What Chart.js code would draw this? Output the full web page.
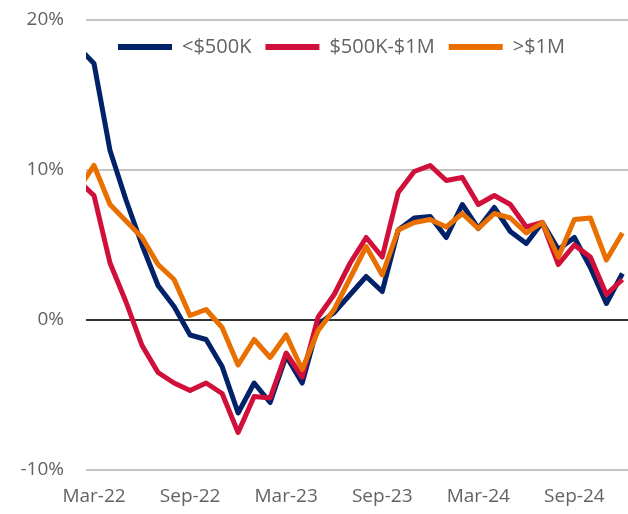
<!DOCTYPE html>
<html>
<head>
<meta charset="utf-8">
<script src="https://cdn.jsdelivr.net/npm/chart.js@4"></script>
<style>
  html, body { margin: 0; padding: 0; background: #fff; }
  #wrap { width: 628px; height: 514px; }
</style>
</head>
<body>
<div id="wrap"><canvas id="myChart" width="628" height="514"></canvas></div>
<script>
// monthly, Feb-22 .. Dec-24 (Feb-22 sits just left of the axis and is clipped)
const months = [
    'Feb-22', 'Mar-22', 'Apr-22', 'May-22', 'Jun-22', 'Jul-22', 'Aug-22', 'Sep-22', 'Oct-22', 'Nov-22', 'Dec-22',
    'Jan-23', 'Feb-23', 'Mar-23', 'Apr-23', 'May-23', 'Jun-23', 'Jul-23', 'Aug-23', 'Sep-23', 'Oct-23', 'Nov-23', 'Dec-23',
    'Jan-24', 'Feb-24', 'Mar-24', 'Apr-24', 'May-24', 'Jun-24', 'Jul-24', 'Aug-24', 'Sep-24', 'Oct-24', 'Nov-24', 'Dec-24'
]
const tickLabels = ['Mar-22', 'Sep-22', 'Mar-23', 'Sep-23', 'Mar-24', 'Sep-24']
const yTicks = [-10, 0, 10, 20]

const under500k = [18.2, 17.1, 11.3, 8.0, 5.0, 2.3, 0.9, -1.0, -1.3, -3.1, -6.2,
    -4.2, -5.5, -2.4, -4.2, -0.3, 0.5, 1.7, 2.9, 1.9, 6.0, 6.8, 6.9,
    5.5, 7.7, 6.1, 7.5, 5.9, 5.1, 6.5, 4.7, 5.5, 3.5, 1.1, 3.1]
const from500kTo1m = [9.3, 8.3, 3.8, 1.2, -1.7, -3.5, -4.2, -4.7, -4.2, -4.9, -7.5,
    -5.1, -5.2, -2.2, -3.8, 0.2, 1.7, 3.8, 5.5, 4.2, 8.5, 9.9, 10.3,
    9.3, 9.5, 7.7, 8.3, 7.7, 6.2, 6.5, 3.7, 5.0, 4.2, 1.7, 2.7]
const over1m = [8.7, 10.3, 7.7, 6.6, 5.5, 3.7, 2.7, 0.3, 0.7, -0.5, -3.0,
    -1.3, -2.5, -1.0, -3.3, -0.7, 0.7, 2.8, 4.9, 3.0, 6.0, 6.5, 6.7,
    6.2, 7.1, 6.1, 7.1, 6.8, 5.8, 6.5, 4.2, 6.7, 6.8, 4.0, 5.8]

const seriesNames = ['<$500K', '$500K-$1M', '>$1M']
const seriesColors = ['#012169', '#d0103a', '#e86f00']

const FONT = "'Open Sans', 'Noto Sans', sans-serif"
const TEXT = '#636363'

window.onload = main

function main() {
    const start = months.indexOf('Mar-22')
    const toPoints = (vals) => vals.map((v, i) => ({x: i - start, y: v}))

    const all = [under500k, from500kTo1m, over1m]
    const datasets = all.map((vals, k) => ({
        label: seriesNames[k],
        data: toPoints(vals),
        borderColor: seriesColors[k],
        backgroundColor: seriesColors[k],
        borderWidth: 5,
        borderJoinStyle: 'round',
        pointRadius: 0,
        tension: 0,
        order: 3 - k
    }))

    // legend sits inside the plot, in one row, placed like the original
    const legendInPlot = {
        id: 'legendInPlot',
        beforeLayout(chart) {
            chart.legend.isHorizontal = () => true
        },
        afterLayout(chart) {
            const lg = chart.legend
            const area = chart.chartArea
            lg.left = area.left + 18
            lg.right = lg.left + lg.width
            lg.top = area.top + 3
            lg.bottom = lg.top + lg.height
        }
    }

    const ctx = document.getElementById('myChart').getContext('2d')
    new Chart(ctx, {
        type: 'line',
        data: {datasets: datasets},
        plugins: [legendInPlot],
        options: {
            responsive: false,
            animation: false,
            layout: {padding: {top: 20, right: 0, left: 0, bottom: 0}},
            plugins: {
                tooltip: {enabled: false},
                legend: {
                    position: 'chartArea',
                    fullSize: false,
                    align: 'start',
                    labels: {
                        boxWidth: 54,
                        boxHeight: 6,
                        padding: 14,
                        color: TEXT,
                        font: {family: FONT, size: 20},
                        useBorderRadius: true,
                        borderRadius: 3,
                        generateLabels: (chart) => chart.data.datasets.map((ds, i) => ({
                            text: ds.label,
                            fillStyle: ds.borderColor,
                            strokeStyle: ds.borderColor,
                            lineWidth: 0,
                            fontColor: TEXT,
                            hidden: false,
                            datasetIndex: i
                        }))
                    }
                }
            },
            scales: {
                x: {
                    type: 'linear',
                    min: -0.5,
                    max: 33.35,
                    grid: {display: false},
                    border: {display: false},
                    afterBuildTicks: (scale) => {
                        scale.ticks = tickLabels.map(l => ({value: months.indexOf(l) - start}))
                    },
                    afterFit: (scale) => { scale.height = 44 },
                    ticks: {
                        autoSkip: false,
                        maxRotation: 0,
                        padding: 7,
                        color: TEXT,
                        font: {family: FONT, size: 19},
                        callback: (v) => months[v + start]
                    }
                },
                y: {
                    min: -10,
                    max: 20,
                    afterBuildTicks: (scale) => {
                        scale.ticks = yTicks.map(v => ({value: v}))
                    },
                    afterFit: (scale) => {
                        scale.width = 86
                        scale.paddingTop = 0
                        scale.paddingBottom = 0
                    },
                    border: {display: false},
                    grid: {
                        drawTicks: false,
                        lineWidth: 2,
                        color: (c) => c.tick && c.tick.value === 0 ? '#333333' : '#c4c4c4'
                    },
                    ticks: {
                        padding: 22,
                        color: TEXT,
                        font: {family: FONT, size: 19},
                        callback: (v) => v + '%'
                    }
                }
            }
        }
    })
}
</script>
</body>
</html>
